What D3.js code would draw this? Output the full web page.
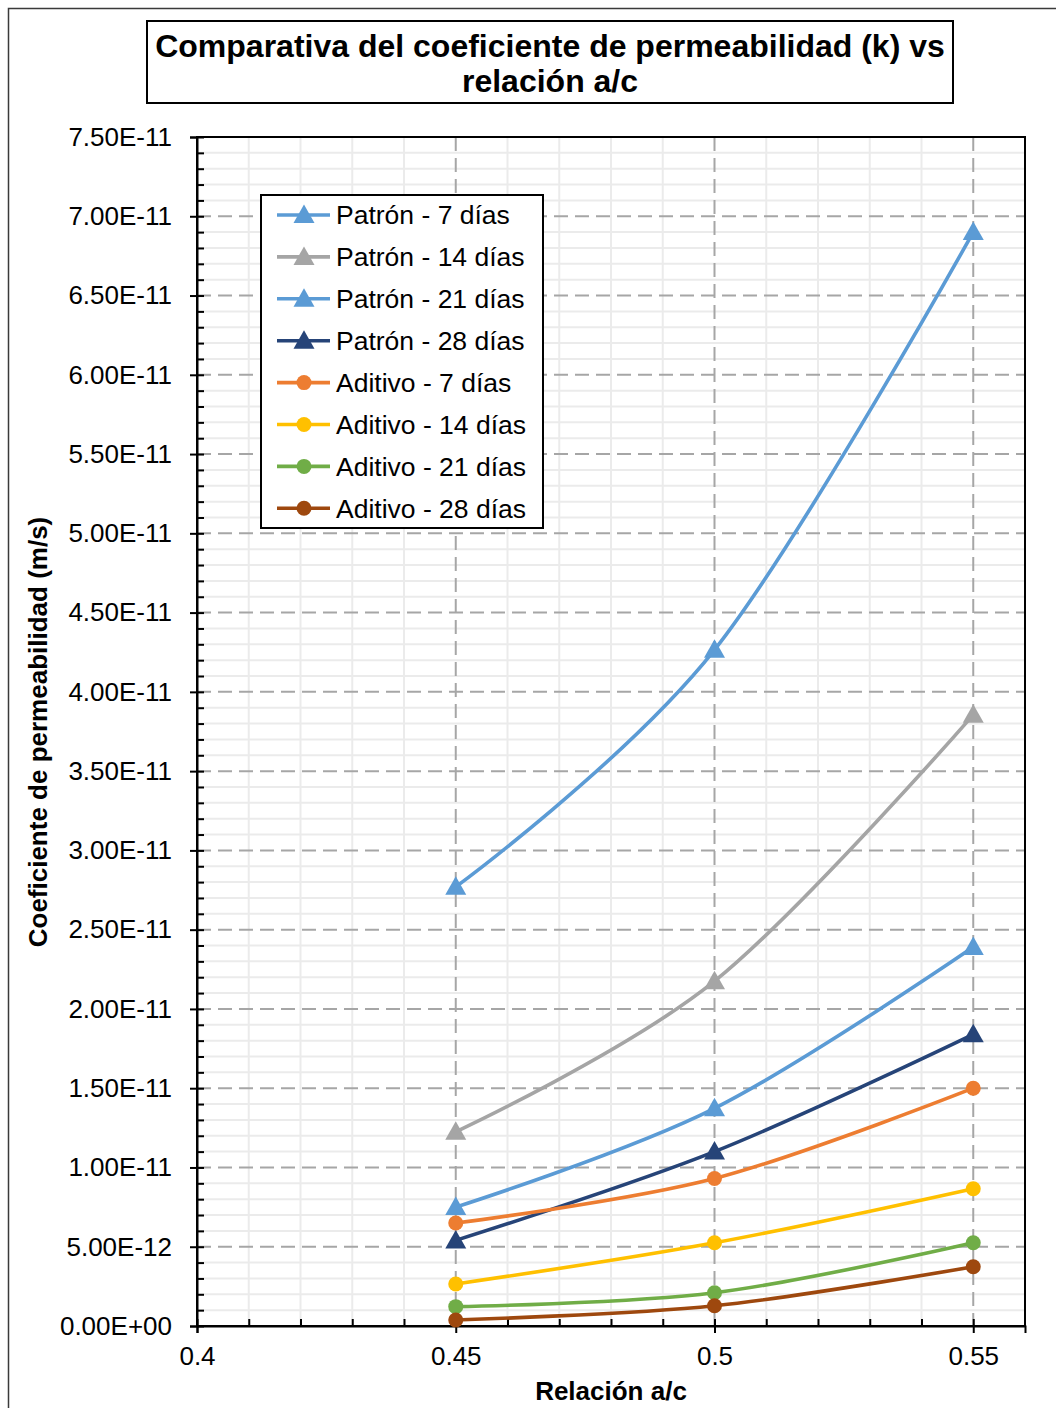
<!DOCTYPE html>
<html>
<head>
<meta charset="utf-8">
<script src="https://cdn.jsdelivr.net/npm/d3@7"></script>
<style>
  html, body { margin: 0; padding: 0; background: #ffffff; }
  svg { display: block; font-family: "Liberation Sans", Arial, sans-serif; }
</style>
</head>
<body>
<svg id="chart" width="1056" height="1408"></svg>
<script>
// Water/cement ratios on the x axis
const ratios = [0.45, 0.5, 0.55];

// Permeability coefficient k (m/s) per series
const patron7   = [2.77e-11, 4.265e-11, 6.90e-11];
const patron14  = [1.225e-11, 2.175e-11, 3.855e-11];
const patron21  = [7.5e-12, 1.373e-11, 2.39e-11];
const patron28  = [5.4e-12, 1.10e-11, 1.84e-11];
const aditivo7  = [6.5e-12, 9.3e-12, 1.50e-11];
const aditivo14 = [2.65e-12, 5.25e-12, 8.66e-12];
const aditivo21 = [1.22e-12, 2.1e-12, 5.25e-12];
const aditivo28 = [3.8e-13, 1.28e-12, 3.74e-12];

const seriesNames = [
  "Patrón - 7 días", "Patrón - 14 días", "Patrón - 21 días", "Patrón - 28 días",
  "Aditivo - 7 días", "Aditivo - 14 días", "Aditivo - 21 días", "Aditivo - 28 días"
];
const seriesValues = [patron7, patron14, patron21, patron28, aditivo7, aditivo14, aditivo21, aditivo28];
const seriesColors = ["#5B9BD5", "#A5A5A5", "#5B9BD5", "#264478", "#ED7D31", "#FFC000", "#70AD47", "#9E480E"];
const seriesMarkers = ["triangle", "triangle", "triangle", "triangle", "circle", "circle", "circle", "circle"];

const xTickValues = [0.4, 0.45, 0.5, 0.55];
const yTickValues = d3.range(0, 16).map(i => i * 5e-12);

const titleLines = ["Comparativa del coeficiente de permeabilidad (k) vs", "relación a/c"];
const xTitle = "Relación a/c";
const yTitle = "Coeficiente de permeabilidad (m/s)";

const svg = d3.select("#chart");

// Plot area
const plot = { left: 197, right: 1025, top: 137, bottom: 1326 };

const x = d3.scaleLinear().domain([0.4, 0.56]).range([plot.left, plot.right]);
const y = d3.scaleLinear().domain([0, 7.5e-11]).range([plot.bottom, plot.top]);

// Outer chart frame
svg.append("rect")
  .attr("x", 8.5).attr("y", 8.5).attr("width", 1200).attr("height", 1600)
  .attr("fill", "#ffffff").attr("stroke", "#3a3a3a").attr("stroke-width", 1.5);

// Title box
svg.append("rect")
  .attr("x", 147).attr("y", 21).attr("width", 806).attr("height", 82)
  .attr("fill", "#ffffff").attr("stroke", "#000000").attr("stroke-width", 2);
svg.selectAll("text.title").data(titleLines).enter().append("text")
  .attr("class", "title")
  .attr("x", 550).attr("y", (d, i) => 57 + i * 35)
  .attr("text-anchor", "middle")
  .attr("font-weight", "bold").attr("font-size", 32)
  .attr("fill", "#000000")
  .text(d => d);

// Minor gridlines
const xMinor = d3.range(41, 56).map(v => v / 100).filter(v => Math.abs((v * 100) % 5) > 1e-6);
const yMinor = d3.range(1, 75).filter(i => i % 5 !== 0).map(i => i * 1e-12);
const grid = svg.append("g");
grid.selectAll("line.xm").data(xMinor).enter().append("line")
  .attr("x1", d => x(d)).attr("x2", d => x(d))
  .attr("y1", plot.top).attr("y2", plot.bottom)
  .attr("stroke", "#ebebeb").attr("stroke-width", 2);
grid.selectAll("line.ym").data(yMinor).enter().append("line")
  .attr("x1", plot.left).attr("x2", plot.right)
  .attr("y1", d => y(d)).attr("y2", d => y(d))
  .attr("stroke", "#ebebeb").attr("stroke-width", 2);

// Major dashed gridlines
grid.selectAll("line.xM").data(xTickValues.slice(1)).enter().append("line")
  .attr("x1", d => x(d)).attr("x2", d => x(d))
  .attr("y1", plot.top).attr("y2", plot.bottom)
  .attr("stroke", "#a6a6a6").attr("stroke-width", 2).attr("stroke-dasharray", "14,7");
grid.selectAll("line.yM").data(yTickValues.slice(1)).enter().append("line")
  .attr("x1", plot.left).attr("x2", plot.right)
  .attr("y1", d => y(d)).attr("y2", d => y(d))
  .attr("stroke", "#a6a6a6").attr("stroke-width", 2).attr("stroke-dasharray", "14,7");

// Plot frame
svg.append("rect")
  .attr("x", plot.left).attr("y", plot.top)
  .attr("width", plot.right - plot.left).attr("height", plot.bottom - plot.top)
  .attr("fill", "none").attr("stroke", "#000000").attr("stroke-width", 2);

// Axes
const fmtY = d => {
  if (d === 0) return "0.00E+00";
  const e = Math.floor(Math.log10(d) + 1e-9);
  const m = d / Math.pow(10, e);
  return m.toFixed(2) + "E-" + String(-e).padStart(2, "0");
};

const yAxis = svg.append("g").attr("transform", `translate(${plot.left},0)`)
  .call(d3.axisLeft(y).tickValues(yTickValues).tickFormat(fmtY).tickSize(7).tickPadding(18));
yAxis.select(".domain").attr("stroke", "#000").attr("stroke-width", 2);
yAxis.selectAll(".tick line").attr("stroke", "#000").attr("stroke-width", 2)
  .attr("x1", 7).attr("x2", -7);
yAxis.selectAll(".tick text").attr("font-size", 26).attr("fill", "#000")
  .attr("font-family", "'Liberation Sans', Arial, sans-serif");

const yMinorTicks = svg.append("g").attr("transform", `translate(${plot.left},0)`)
  .call(d3.axisRight(y).tickValues(yMinor).tickFormat("").tickSize(7));
yMinorTicks.select(".domain").remove();
yMinorTicks.selectAll(".tick line").attr("stroke", "#000").attr("stroke-width", 2);

const xAxis = svg.append("g").attr("transform", `translate(0,${plot.bottom})`)
  .call(d3.axisBottom(x).tickValues(xTickValues).tickFormat(d => String(d)).tickSize(7).tickPadding(14));
xAxis.select(".domain").attr("stroke", "#000").attr("stroke-width", 2);
xAxis.selectAll(".tick line").attr("stroke", "#000").attr("stroke-width", 2)
  .attr("y1", -7).attr("y2", 7);
xAxis.selectAll(".tick text").attr("font-size", 26).attr("fill", "#000")
  .attr("font-family", "'Liberation Sans', Arial, sans-serif");

const xMinorTicks = svg.append("g").attr("transform", `translate(0,${plot.bottom})`)
  .call(d3.axisTop(x).tickValues(xMinor).tickFormat("").tickSize(7));
xMinorTicks.select(".domain").remove();
xMinorTicks.selectAll(".tick line").attr("stroke", "#000").attr("stroke-width", 2);

// Axis titles
svg.append("text")
  .attr("x", 611).attr("y", 1400)
  .attr("text-anchor", "middle").attr("font-weight", "bold").attr("font-size", 26)
  .text(xTitle);
svg.append("text")
  .attr("transform", "translate(47,732) rotate(-90)")
  .attr("text-anchor", "middle").attr("font-weight", "bold").attr("font-size", 26)
  .text(yTitle);

// Series
const line = d3.line()
  .x((d, i) => x(ratios[i]))
  .y(d => y(d))
  .curve(d3.curveCardinal.tension(0));

const triPath = "M0,-10 L10.5,8.5 L-10.5,8.5 Z";

function drawMarker(g, type, color, cx, cy) {
  if (type === "triangle") {
    g.append("path").attr("d", triPath)
      .attr("transform", `translate(${cx},${cy - 0.5})`)
      .attr("fill", color);
  } else {
    g.append("circle").attr("cx", cx).attr("cy", cy).attr("r", 7.5).attr("fill", color);
  }
}

const seriesG = svg.append("g");
seriesValues.forEach((vals, s) => {
  const g = seriesG.append("g");
  g.append("path").datum(vals)
    .attr("d", line)
    .attr("fill", "none")
    .attr("stroke", seriesColors[s])
    .attr("stroke-width", 3.6)
    .attr("stroke-linecap", "round");
  vals.forEach((v, i) => drawMarker(g, seriesMarkers[s], seriesColors[s], x(ratios[i]), y(v)));
});

// Legend
const legend = svg.append("g");
legend.append("rect")
  .attr("x", 261).attr("y", 195).attr("width", 282).attr("height", 333)
  .attr("fill", "#ffffff").attr("stroke", "#000000").attr("stroke-width", 2);
seriesNames.forEach((name, s) => {
  const cy = 215 + s * 41.9;
  legend.append("line")
    .attr("x1", 277).attr("x2", 330).attr("y1", cy).attr("y2", cy)
    .attr("stroke", seriesColors[s]).attr("stroke-width", 3.6);
  drawMarker(legend, seriesMarkers[s], seriesColors[s], 304, cy);
  legend.append("text")
    .attr("x", 336).attr("y", cy).attr("dy", "0.35em")
    .attr("font-size", 26.5).attr("fill", "#000")
    .text(name);
});
</script>
</body>
</html>
